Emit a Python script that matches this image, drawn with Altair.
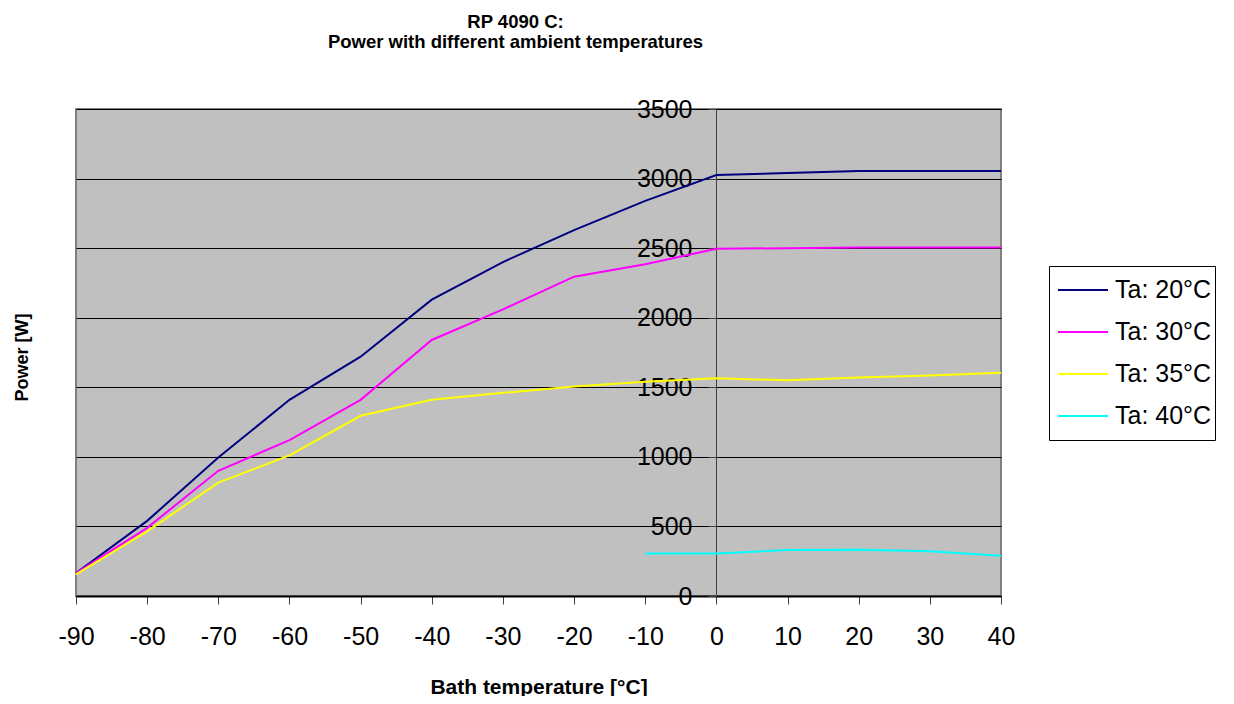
import altair as alt
import pandas as pd

temps = [-90, -80, -70, -60, -50, -40, -30, -20, -10, 0, 10, 20, 30, 40]
ta20 = [165, 540, 995, 1410, 1720, 2130, 2400, 2630, 2840, 3025, 3040, 3055, 3055, 3055]
ta30 = [165, 490, 900, 1120, 1410, 1840, 2060, 2295, 2385, 2495, 2500, 2505, 2505, 2505]
ta35 = [155, 465, 815, 1010, 1295, 1410, 1460, 1505, 1540, 1565, 1550, 1570, 1585, 1605]
ta40 = [None, None, None, None, None, None, None, None, 305, 305, 330, 333, 322, 290]
series_names = ["Ta: 20°C", "Ta: 30°C", "Ta: 35°C", "Ta: 40°C"]
series_colors = ["#000080", "#FF00FF", "#FFFF00", "#00FFFF"]
y_ticks = [0, 500, 1000, 1500, 2000, 2500, 3000, 3500]

rows = []
for name, vals in zip(series_names, [ta20, ta30, ta35, ta40]):
    for t, v in zip(temps, vals):
        if v is not None:
            rows.append({"temp": t, "power": v, "series": name})
df = pd.DataFrame(rows)

FONT = "Liberation Sans"

chart = alt.Chart(df).mark_line(strokeWidth=2).encode(
    x=alt.X(
        "temp:Q",
        scale=alt.Scale(domain=[-90, 40], nice=False, zero=False),
        axis=alt.Axis(
            values=temps,
            title="Bath temperature [°C]",
            labelExpr="'' + datum.value",
            labelFlush=False,
            labelOverlap=False,
            grid=False,
            domainColor="#000000",
            domainWidth=2,
            tickColor="#404040",
            tickSize=8,
            tickWidth=1,
            labelFont=FONT,
            labelFontSize=25,
            labelColor="#000000",
            labelPadding=20,
            titleFont=FONT,
            titleFontSize=21,
            titleFontWeight="bold",
            titleColor="#000000",
            titleBaseline="alphabetic",
            titleY=97,
        ),
    ),
    y=alt.Y(
        "power:Q",
        scale=alt.Scale(domain=[0, 3500], nice=False),
        axis=alt.Axis(
            values=y_ticks,
            title="Power [W]",
            labelExpr="'' + datum.value",
            offset=-640,
            labelFlush=False,
            labelOverlap=False,
            grid=True,
            gridColor="#000000",
            gridWidth=1,
            domainColor="#404040",
            domainWidth=1,
            tickColor="#404040",
            tickSize=8,
            tickWidth=1,
            labelFont=FONT,
            labelFontSize=25,
            labelColor="#000000",
            labelPadding=16,
            titleFont=FONT,
            titleFontSize=18,
            titleFontWeight="bold",
            titleColor="#000000",
            titleBaseline="middle",
            titleAngle=-90,
            titleX=-694,
            titleY=248,
        ),
    ),
    color=alt.Color(
        "series:N",
        scale=alt.Scale(domain=series_names, range=series_colors),
        legend=alt.Legend(
            title=None,
            orient="none",
            legendX=973,
            legendY=157,
            symbolType="stroke",
            symbolSize=2500,
            symbolStrokeWidth=2,
            labelFont=FONT,
            labelFontSize=25,
            labelColor="#000000",
            labelOffset=6,
            strokeColor="#000000",
            fillColor="#FFFFFF",
            padding=3,
            rowPadding=0,
            clipHeight=42,
            symbolOffset=5,
        ),
    ),
).properties(
    width=925,
    height=487,
    title=alt.TitleParams(
        text=["RP 4090 C:", "Power with different ambient temperatures"],
        font=FONT,
        fontSize=18.5,
        fontWeight="bold",
        color="#000000",
        anchor="middle",
        dx=-23,
        baseline="bottom",
        lineHeight=20,
        offset=27,
    ),
    autosize=alt.AutoSizeParams(type="none"),
    padding={"left": 68, "top": 101, "right": 225, "bottom": 100},
).configure_view(
    fill="#C0C0C0",
    stroke="#808080",
    strokeWidth=2,
)

chart.save("out.html", embed_options={"renderer": "svg", "actions": False})
